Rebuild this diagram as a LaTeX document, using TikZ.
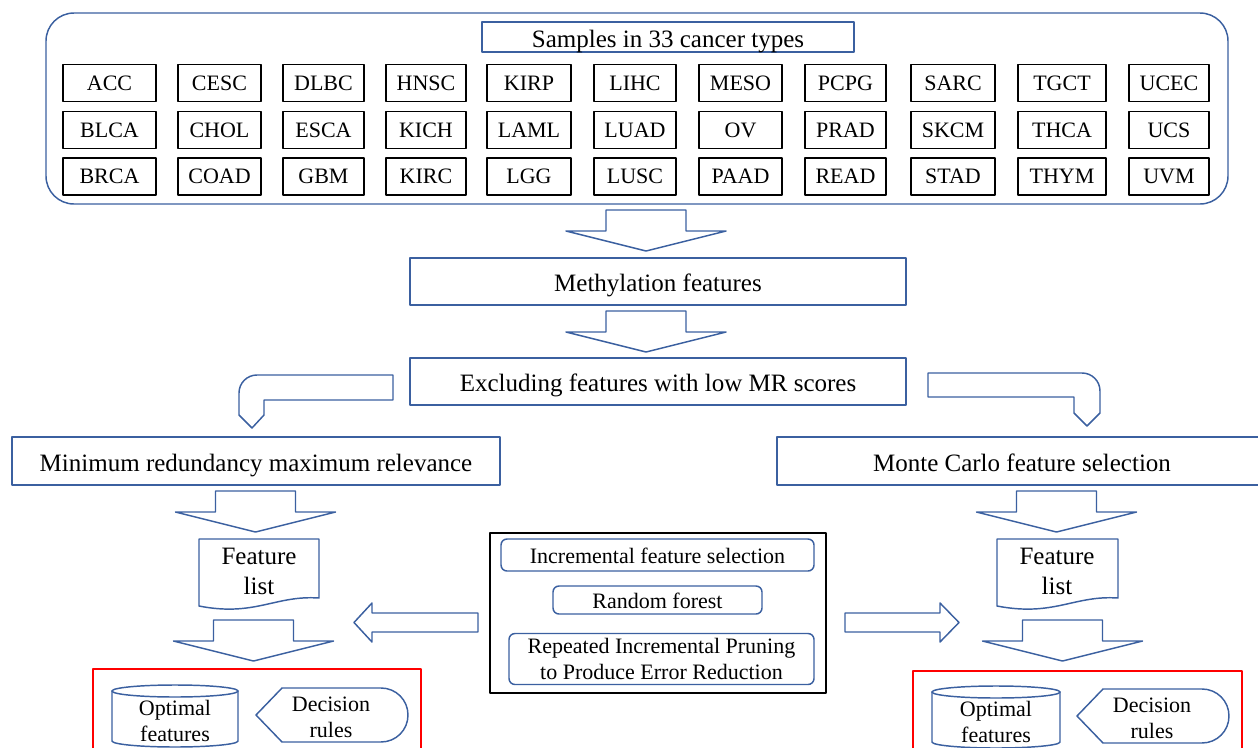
\documentclass[tikz,border=0pt]{standalone}
\usepackage{fontspec}
\setmainfont{Liberation Serif}
\definecolor{lineblue}{RGB}{59,96,160}
\newcommand{\bigtxt}{\fontsize{18.75pt}{22.5pt}\selectfont}
\newcommand{\smtxt}{\fontsize{16.5pt}{19.5pt}\selectfont}
\newcommand{\downblock}[2]{%
  \draw[blockarrow] (#1-40,#2) -- (#1+40,#2) -- (#1+40,#2+21) -- (#1+80,#2+21)
    -- (#1,#2+41) -- (#1-80,#2+21) -- (#1-40,#2+21) -- cycle;}

\begin{document}
\begin{tikzpicture}[line cap=round,line join=round,x=0.75pt,y=-0.75pt,
  bluebox/.style={draw=lineblue,line width=1.1pt,inner sep=0pt,text height=15pt,text depth=0pt,font=\bigtxt},
  typebox/.style={draw=black,line width=1.1pt,inner sep=0pt,minimum height=27.75pt,text height=11pt,text depth=0pt,font=\smtxt},
  methodbox/.style={draw=lineblue,line width=1.1pt,rounded corners=4.5pt,inner sep=0pt,align=center,font=\smtxt},
  blockarrow/.style={draw=lineblue,line width=1.1pt},
  redframe/.style={draw=red,line width=1.1pt}]
\useasboundingbox (0,0) rectangle (1258,747);
\clip (0,0) rectangle (1258,747);

\draw[lineblue,line width=1.1pt,rounded corners=21pt] (46,13) rectangle (1228,204);
\node[bluebox,minimum width=279pt,minimum height=22.5pt] (title) at (668,37) {Samples in 33 cancer types};
\foreach \cx/\w/\ra/\rb/\rc [count=\i] in {109.5/93/ACC/BLCA/BRCA, 219.5/83/CESC/CHOL/COAD,
    323.5/81/DLBC/ESCA/GBM, 426/80/HNSC/KICH/KIRC, 529/84/KIRP/LAML/LGG, 635/82/LIHC/LUAD/LUSC,
    740.5/83/MESO/OV/PAAD, 845.5/81/PCPG/PRAD/READ, 953/84/SARC/SKCM/STAD,
    1062/88/TGCT/THCA/THYM, 1169/80/UCEC/UCS/UVM}{
  \node[typebox,minimum width=\w*0.75pt] (t\i a) at (\cx,83) {\ra};
  \node[typebox,minimum width=\w*0.75pt] (t\i b) at (\cx,130) {\rb};
  \node[typebox,minimum width=\w*0.75pt] (t\i c) at (\cx,176.5) {\rc};
}

\downblock{646}{210}
\node[bluebox,minimum width=372pt,minimum height=35.25pt] (meth) at (658,281.5) {Methylation features};
\downblock{646}{311}
\node[bluebox,minimum width=372pt,minimum height=35.25pt] (excl) at (658,381.5) {Excluding features with low MR scores};

% bent arrows
\draw[blockarrow] (393,375) -- (257,375) .. controls (247,375) and (239,383) .. (239,393)
  -- (239,415) -- (252,428) -- (264,415) -- (264,400) -- (393,400) -- cycle;
\draw[blockarrow] (928,373) -- (1082,373) .. controls (1092,373) and (1100,381) .. (1100,391)
  -- (1100,413) -- (1087,426) -- (1074,413) -- (1074,397) -- (928,397) -- cycle;

\node[bluebox,minimum width=366pt,minimum height=36pt] (mrmr) at (256,461) {Minimum redundancy maximum relevance};
\node[bluebox,minimum width=363.75pt,minimum height=36pt] (mcfs) at (1019.5,461) {};
\node[font=\bigtxt,inner sep=0pt,text height=15pt,text depth=0pt] (mcfstxt) at (1022,461) {Monte Carlo feature selection};

% left column
\downblock{255.5}{491}
\draw[blockarrow] (199,539) -- (319,539) -- (319,598) .. controls (275,595) and (255,617) .. (199,606) -- cycle;
\node[font=\bigtxt,align=center,inner sep=0pt] (listl) at (259,571) {Feature\\list};
\downblock{253.5}{620}
\draw[redframe] (93,669) rectangle (421,760);
\draw[blockarrow] (112,691) -- (112,741) .. controls (112,744.3) and (140.8,747) .. (175,747)
  .. controls (209.2,747) and (238,744.3) .. (238,741) -- (238,691);
\draw[blockarrow] (175,691) ellipse [x radius=63,y radius=6];
\node[font=\smtxt,align=center,inner sep=0pt] (optl) at (175,721) {Optimal\\features};
\draw[blockarrow] (256,715) -- (282,688) -- (381,688) .. controls (396,688) and (408,700) .. (408,715)
  .. controls (408,730) and (396,742) .. (381,742) -- (282,742) -- cycle;
\node[font=\smtxt,align=center,inner sep=0pt] (rulel) at (331,717) {Decision\\rules};

% methods
\draw[line width=1.4pt] (490,533) rectangle (826,693);
\node[methodbox,minimum width=234.75pt,minimum height=24pt,text height=13pt,text depth=0pt] (ifs) at (657.5,555) {Incremental feature selection};
\node[methodbox,minimum width=156.75pt,minimum height=21pt,text height=13pt,text depth=0pt] (rf) at (657.5,600) {Random forest};
\node[methodbox,minimum width=228.75pt,minimum height=38.25pt] (rip) at (661.5,659) {Repeated Incremental Pruning\\to Produce Error Reduction};
\draw[blockarrow] (478,613) -- (372,613) -- (372,603) -- (354,622.5) -- (372,642) -- (372,632) -- (478,632) -- cycle;
\draw[blockarrow] (845,613) -- (940,613) -- (940,603) -- (959,622.5) -- (940,642) -- (940,632) -- (845,632) -- cycle;

% right column
\downblock{1056.5}{491}
\draw[blockarrow] (997,539) -- (1118,539) -- (1118,598) .. controls (1074,595) and (1054,617) .. (997,606) -- cycle;
\node[font=\bigtxt,align=center,inner sep=0pt] (listr) at (1057,571) {Feature\\list};
\downblock{1062.5}{620}
\draw[redframe] (913,671) rectangle (1242,760);
\draw[blockarrow] (932,692) -- (932,742) .. controls (932,745.3) and (960.8,748) .. (996,748)
  .. controls (1031.2,748) and (1060,745.3) .. (1060,742) -- (1060,692);
\draw[blockarrow] (996,692) ellipse [x radius=64,y radius=6];
\node[font=\smtxt,align=center,inner sep=0pt] (optr) at (996,722) {Optimal\\features};
\draw[blockarrow] (1077,716) -- (1103,689) -- (1202,689) .. controls (1217,689) and (1229,701) .. (1229,716)
  .. controls (1229,731) and (1217,743) .. (1202,743) -- (1103,743) -- cycle;
\node[font=\smtxt,align=center,inner sep=0pt] (ruler) at (1152,718) {Decision\\rules};
\end{tikzpicture}
\end{document}
